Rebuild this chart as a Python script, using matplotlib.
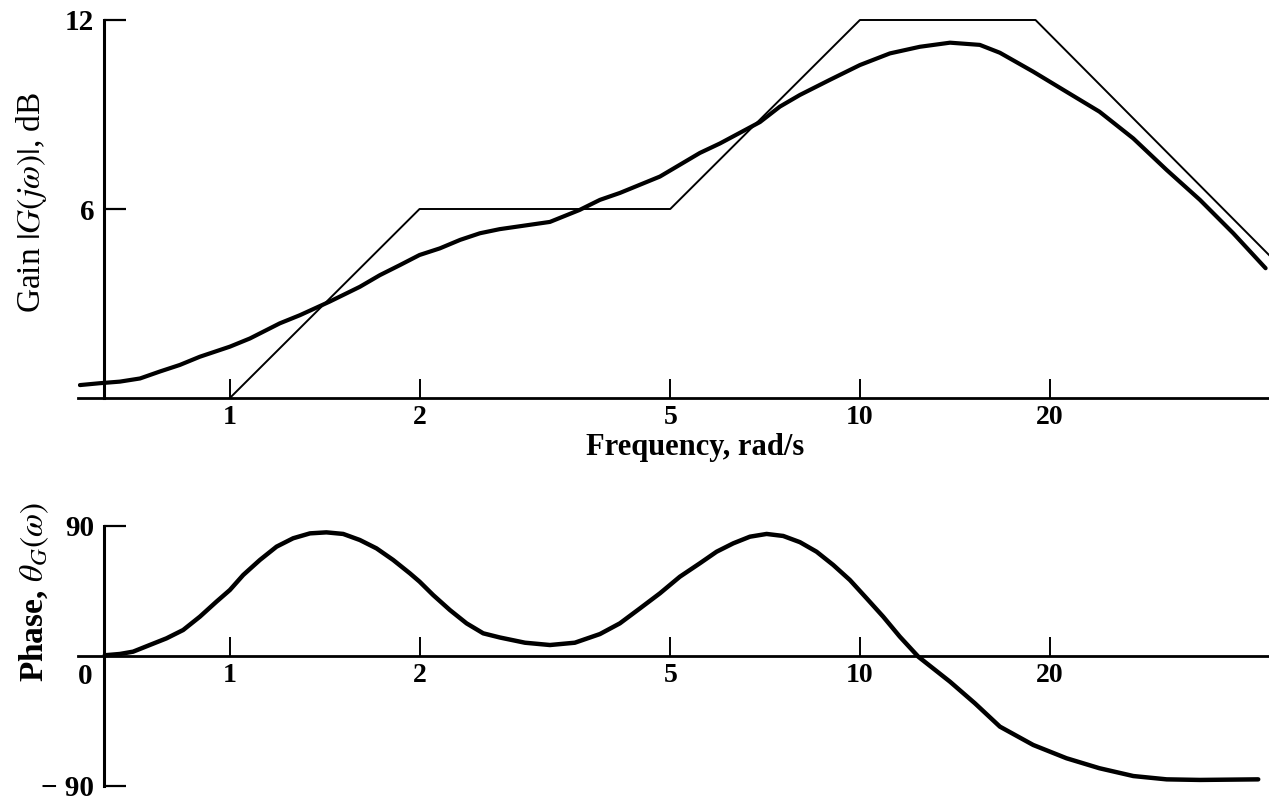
import matplotlib
matplotlib.use("Agg")
import matplotlib.pyplot as plt
from matplotlib.ticker import NullLocator, NullFormatter

# Gain curve (rad/s, dB)
omega_gain = [0.578, 0.622, 0.669, 0.720, 0.774, 0.833, 0.896, 1.0, 1.076, 1.20,
              1.292, 1.44, 1.608, 1.73, 1.862, 2.00, 2.154, 2.32, 2.494, 2.68,
              3.221, 3.59, 3.867, 4.16, 4.815, 5.572, 5.995, 6.94, 7.464, 8.03,
              8.96, 10.0, 11.16, 12.45, 13.9, 15.50, 16.68, 18.84, 21.28,
              24.0, 27.16, 30.68, 34.65, 39.14, 44.05]
gain_db = [0.41, 0.47, 0.52, 0.62, 0.84, 1.05, 1.31, 1.63, 1.89, 2.37,
           2.63, 3.06, 3.53, 3.90, 4.22, 4.54, 4.75, 5.02, 5.23, 5.36,
           5.59, 5.97, 6.29, 6.51, 7.03, 7.78, 8.08, 8.76, 9.25, 9.62,
           10.10, 10.57, 10.94, 11.15, 11.28, 11.21, 10.96, 10.36, 9.72,
           9.09, 8.24, 7.24, 6.29, 5.23, 4.12]

# Straight-line asymptote
asym_omega = [1, 2, 5, 10, 19, 44.6]
asym_db = [0, 6, 6, 12, 12, 4.54]

# Phase curve (rad/s, degrees)
omega_phase = [0.633, 0.669, 0.702, 0.746, 0.793, 0.843, 0.896, 0.952, 1.0, 1.050,
               1.116, 1.186, 1.260, 1.340, 1.423, 1.513, 1.608, 1.709, 1.816, 1.931,
               2.0, 2.102, 2.235, 2.375, 2.524, 2.683, 2.940, 3.221, 3.528, 3.867,
               4.159, 4.477, 4.815, 5.179, 5.572, 5.923, 6.295, 6.690, 7.111, 7.556,
               8.032, 8.535, 9.072, 9.641, 10.25, 10.89, 11.57, 12.38, 13.90, 15.22,
               16.68, 18.84, 21.28, 24.0, 27.16, 30.68, 34.65, 42.88]
phase_deg = [0.5, 1.4, 3.0, 7.6, 12.2, 18.0, 27.2, 37.6, 45.7, 56.1,
             66.5, 75.7, 81.5, 84.9, 85.6, 84.5, 80.3, 74.5, 66.5, 57.2,
             51.5, 42.2, 31.8, 22.6, 15.7, 12.8, 9.2, 7.6, 9.2, 15.2,
             22.6, 33.0, 43.4, 54.9, 64.2, 72.2, 78.0, 82.6, 84.5, 83.1,
             78.8, 72.2, 63.0, 52.6, 39.9, 27.2, 13.4, -0.5, -17.8, -32.7,
             -48.9, -61.6, -70.8, -77.7, -83.1, -85.4, -85.8, -85.4]

freq_ticks = [1, 2, 5, 10, 20]
gain_ticks = [6, 12]
phase_ticks = [-90, 90]

XMIN, XMAX = 0.574, 44.6
YAXIS_AT = 0.631

plt.rcParams['font.family'] = ['Liberation Serif', 'DejaVu Serif']
plt.rcParams['mathtext.fontset'] = 'stix'

fig = plt.figure(figsize=(12.69, 8.01), dpi=100)
ax1 = fig.add_axes([78 / 1269, 1 - 398 / 801, 1 - 78 / 1269, 378 / 801])
ax2 = fig.add_axes([78 / 1269, 1 - 786 / 801, 1 - 78 / 1269, 260 / 801])


def style_axis(ax, ylo, yhi, yticks, ylabels):
    ax.set_xscale('log')
    ax.set_xlim(XMIN, XMAX)
    ax.set_ylim(ylo, yhi)
    for s in ['top', 'right']:
        ax.spines[s].set_visible(False)
    ax.spines['left'].set_position(('data', YAXIS_AT))
    ax.spines['left'].set_bounds(ylo, yhi)
    ax.spines['left'].set_linewidth(2.2)
    ax.spines['bottom'].set_linewidth(2.0)
    ax.xaxis.set_minor_locator(NullLocator())
    ax.xaxis.set_minor_formatter(NullFormatter())
    ax.tick_params(axis='x', direction='in', length=14, width=1.4, pad=5)
    ax.tick_params(axis='y', direction='in', length=16, width=1.6, pad=7)
    ax.set_xticks(freq_ticks)
    ax.set_xticklabels([str(t) for t in freq_ticks], fontsize=20,
                       fontweight='bold')
    ax.set_yticks(yticks)
    ax.set_yticklabels(ylabels, fontsize=21, fontweight='bold')


# gain plot
ax1.plot(omega_gain, gain_db, color='black', lw=3.0, solid_capstyle='round')
ax1.plot(asym_omega, asym_db, color='black', lw=1.4, clip_on=False)
style_axis(ax1, 0, 12, gain_ticks, [str(t) for t in gain_ticks])

# phase plot
ax2.plot(omega_phase, phase_deg, color='black', lw=3.2, solid_capstyle='round')
ax2.spines['bottom'].set_position(('data', 0))
style_axis(ax2, -90, 90, phase_ticks, ['\u2212 90', '90'])
ax2.text(0.605, -5, '0', fontsize=21, fontweight='bold', ha='right', va='top')

fig.text(32 / 1269, 1 - 202 / 801, r'Gain $|G(j\omega)|$, dB', rotation=90,
         fontsize=24, ha='center', va='center')
fig.text(695 / 1269, 1 - 455 / 801, 'Frequency, rad/s', fontsize=22,
         fontweight='bold', ha='center', va='baseline')
fig.text(34 / 1269, 1 - 592 / 801, r'Phase, $\theta_G(\omega)$', rotation=90,
         fontsize=24, fontweight='bold', ha='center', va='center')

fig.savefig('out.png', dpi=100)
